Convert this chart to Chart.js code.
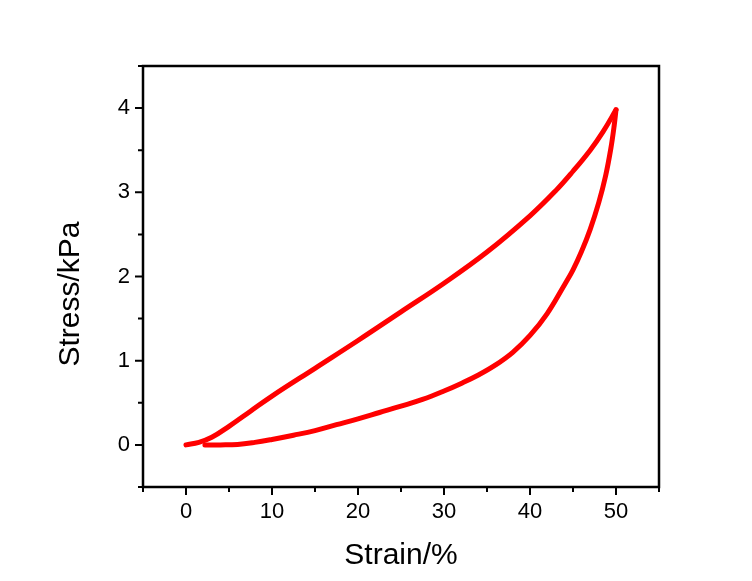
<!DOCTYPE html>
<html>
<head>
<meta charset="utf-8">
<script src="https://cdn.jsdelivr.net/npm/chart.js@4.4.1/dist/chart.umd.min.js"></script>
<style>
    html, body { margin: 0; padding: 0; background: #fff; }
    #wrap { width: 752px; height: 581px; }
</style>
</head>
<body>
<div id="wrap"><canvas id="loopChart" width="752" height="581"></canvas></div>
<script>
// -----------------------------------------
// Daten (Belastung / Entlastung)
// -----------------------------------------
const loadStrain   = [0, 1.5, 3, 5, 7.5, 10, 15, 20, 25, 30, 35, 40, 43, 45, 47, 48.5, 50];
const loadStress   = [0, 0.03, 0.09, 0.22, 0.4, 0.58, 0.91, 1.24, 1.58, 1.92, 2.29, 2.72, 3.02, 3.25, 3.5, 3.72, 3.98];

const unloadStrain = [50, 49.8, 49.4, 48.8, 48, 47, 46, 45, 44, 42, 40, 38, 36, 34, 32, 30, 27.5, 25, 22.5, 20, 17.5, 15, 12.5, 10, 8, 6, 4, 2.2];
const unloadStress = [3.98, 3.8, 3.52, 3.2, 2.88, 2.56, 2.3, 2.08, 1.9, 1.56, 1.3, 1.1, 0.95, 0.83, 0.73, 0.64, 0.54, 0.46, 0.385, 0.31, 0.24, 0.17, 0.115, 0.065, 0.03, 0.005, 0, 0];

const xTicks = [0, 10, 20, 30, 40, 50];
const xMinor = [-5, 5, 15, 25, 35, 45, 55];
const yTicks = [0, 1, 2, 3, 4];
const yMinor = [-0.5, 0.5, 1.5, 2.5, 3.5, 4.5];

const xTitle = "Strain/%";
const yTitle = "Stress/kPa";

const FONT = "'Liberation Sans', Arial, sans-serif";

function toPoints(xs, ys) {
    return xs.map((x, i) => ({ x: x, y: ys[i] }));
}


// -----------------------------------------
// Rahmen, Ticks und Achsentitel
// -----------------------------------------
const framePlugin = {
    id: "frame",
    afterDraw(chart) {
        const ctx = chart.ctx;
        const a = chart.chartArea;
        const xs = chart.scales.x;
        const ys = chart.scales.y;

        ctx.save();
        ctx.strokeStyle = "#000";
        ctx.lineWidth = 2.5;
        ctx.lineCap = "square";
        ctx.strokeRect(a.left, a.top, a.right - a.left, a.bottom - a.top);

        ctx.lineWidth = 2;
        ctx.lineCap = "butt";
        ctx.beginPath();
        xTicks.forEach(v => {
            const px = xs.getPixelForValue(v);
            ctx.moveTo(px, a.bottom); ctx.lineTo(px, a.bottom + 8);
        });
        xMinor.forEach(v => {
            const px = xs.getPixelForValue(v);
            ctx.moveTo(px, a.bottom); ctx.lineTo(px, a.bottom + 5);
        });
        yTicks.forEach(v => {
            const py = ys.getPixelForValue(v);
            ctx.moveTo(a.left, py); ctx.lineTo(a.left - 8, py);
        });
        yMinor.forEach(v => {
            const py = ys.getPixelForValue(v);
            ctx.moveTo(a.left, py); ctx.lineTo(a.left - 5, py);
        });
        ctx.stroke();

        // Achsentitel
        ctx.fillStyle = "#000";
        ctx.font = "30px " + FONT;
        ctx.textAlign = "center";
        ctx.textBaseline = "middle";
        ctx.fillText(xTitle, (a.left + a.right) / 2, 556);

        ctx.translate(71, 294);
        ctx.rotate(-Math.PI / 2);
        ctx.fillText(yTitle, 0, 0);
        ctx.restore();
    }
};


// -----------------------------------------
// Diagramm initialisieren
// -----------------------------------------
const lineStyle = {
    borderColor: "#ff0000",
    borderWidth: 5,
    pointRadius: 0,
    tension: 0.4,
    showLine: true,
    fill: false,
    borderCapStyle: "round",
    borderJoinStyle: "round"
};

new Chart(document.getElementById("loopChart"), {
    type: "scatter",
    data: {
        datasets: [
            Object.assign({ label: "Loading", data: toPoints(loadStrain, loadStress) }, lineStyle),
            Object.assign({ label: "Unloading", data: toPoints(unloadStrain, unloadStress) }, lineStyle)
        ]
    },
    options: {
        responsive: false,
        animation: false,
        layout: { padding: { left: 83, right: 93, top: 66, bottom: 54 } },
        plugins: {
            legend: { display: false },
            tooltip: { enabled: false }
        },
        scales: {
            x: {
                type: "linear",
                min: -5,
                max: 55,
                afterBuildTicks: s => { s.ticks = xTicks.map(v => ({ value: v })); },
                afterFit: s => { s.height = 40; },
                border: { display: false },
                grid: { display: true, drawOnChartArea: false, tickLength: 8, tickColor: "rgba(0,0,0,0)" },
                ticks: { color: "#000", font: { family: FONT, size: 22 }, padding: 4, maxRotation: 0 }
            },
            y: {
                type: "linear",
                min: -0.5,
                max: 4.5,
                afterBuildTicks: s => { s.ticks = yTicks.map(v => ({ value: v })); },
                afterFit: s => { s.width = 60; },
                border: { display: false },
                grid: { display: true, drawOnChartArea: false, tickLength: 8, tickColor: "rgba(0,0,0,0)" },
                ticks: { color: "#000", font: { family: FONT, size: 22 }, padding: 5 }
            }
        }
    },
    plugins: [framePlugin]
});
</script>
</body>
</html>
